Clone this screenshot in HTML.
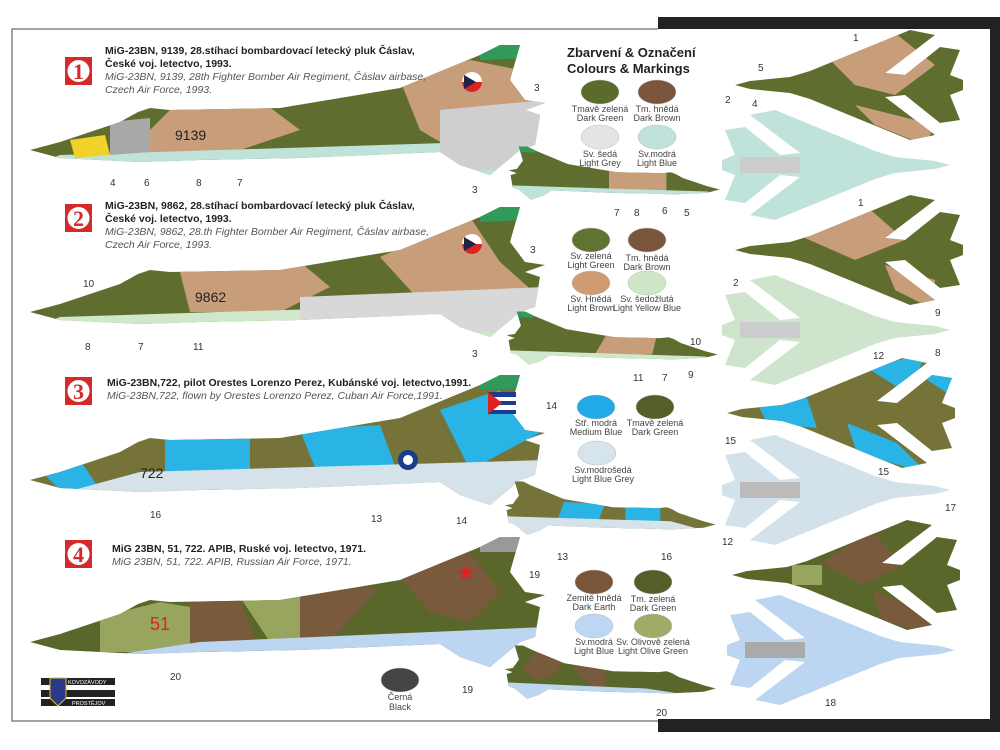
<!DOCTYPE html>
<html><head><meta charset="utf-8"><style>
html,body{margin:0;padding:0;background:#fff;}
svg{display:block;font-family:"Liberation Sans",sans-serif;}
.h{font-weight:bold;font-size:10.5px;fill:#222}
.i{font-style:italic;font-size:10.5px;fill:#555}
.n{font-size:10px;fill:#333}
.c{font-size:9px;fill:#444;text-anchor:middle}
</style></head><body>
<svg width="1000" height="750" viewBox="0 0 1000 750" xmlns="http://www.w3.org/2000/svg">
<defs>
<path id="side" d="M30,150 L60,142 L120,122 L138,112 L150,108 L170,110 L280,108 L400,88 L480,55 L500,45 L520,45 L510,80 L525,100 L545,103 L525,110 L540,115 L535,145 L520,150 L490,175 L460,165 L440,152 L300,158 L200,160 L140,162 L60,158 Z"/>
<path id="top" d="M0,0 L15,-4 L55,-8 L75,-14 L175,-55 L200,-50 L150,-12 L170,-10 L205,-38 L225,-35 L215,-10 L228,-5 L228,5 L215,10 L225,35 L205,38 L170,10 L150,12 L200,50 L175,55 L75,14 L55,8 L15,4 Z"/>
<clipPath id="cs"><use href="#side"/></clipPath>
<clipPath id="ct"><use href="#top"/></clipPath>
</defs>

<!-- frame -->
<rect x="12" y="29" width="660" height="692" fill="#fff" stroke="#666" stroke-width="1.2"/>
<rect x="658" y="17" width="342" height="715" fill="#222"/>
<rect x="658" y="29" width="332" height="690" fill="#fff"/>

<!-- Aircraft 1 side -->
<g>
 <use href="#side" fill="#5f6e2e"/>
 <g clip-path="url(#cs)">
  <polygon points="170,110 260,100 300,130 240,150 160,160 130,150" fill="#c89d7a"/>
  <polygon points="400,80 470,60 520,70 545,140 470,160 420,130" fill="#c89d7a"/>
  <polygon points="60,155 540,140 540,180 0,180" fill="#bfe2da"/>
  <polygon points="440,110 545,100 545,170 440,170" fill="#cfcfcf"/>
  <polygon points="480,40 530,40 525,58 480,60" fill="#2f9a5a"/>
  <polygon points="70,140 105,135 110,155 75,158" fill="#f2d22a"/>
  <polygon points="110,122 150,118 150,152 110,155" fill="#a8a8a8"/>
 </g>
 <text x="175" y="140" font-size="14" fill="#222">9139</text>
 <circle cx="472" cy="82" r="10" fill="#fff"/><path d="M462,82 a10,10 0 0 0 20,0 Z" fill="#d22"/><path d="M464,75 L476,82 L464,89 Z" fill="#224"/>
</g>
<!-- Aircraft 2 side -->
<g transform="translate(0,162)">
 <use href="#side" fill="#5f6e2e"/>
 <g clip-path="url(#cs)">
  <polygon points="180,110 300,100 330,125 280,150 190,150" fill="#c89d7a"/>
  <polygon points="380,95 470,55 500,100 545,140 430,150" fill="#c89d7a"/>
  <polygon points="60,155 540,140 540,180 0,180" fill="#cfe8cc"/>
  <polygon points="300,135 545,125 545,170 300,170" fill="#d8d8d8"/>
  <polygon points="480,40 530,40 525,58 480,60" fill="#2f9a5a"/>
 </g>
 <text x="195" y="140" font-size="14" fill="#222">9862</text>
 <circle cx="472" cy="82" r="10" fill="#fff"/><path d="M462,82 a10,10 0 0 0 20,0 Z" fill="#d22"/><path d="M464,75 L476,82 L464,89 Z" fill="#224"/>
</g>
<!-- Aircraft 3 side -->
<g transform="translate(0,330)">
 <use href="#side" fill="#757338"/>
 <g clip-path="url(#cs)">
  <polygon points="40,140 80,130 100,160 60,160" fill="#2ab4e6"/>
  <polygon points="165,105 250,100 250,160 165,160" fill="#2ab4e6"/>
  <polygon points="300,100 380,95 400,150 320,150" fill="#2ab4e6"/>
  <polygon points="440,80 500,60 510,80 545,100 470,140" fill="#2ab4e6"/>
  <polygon points="140,142 545,130 545,180 0,180" fill="#d6e2ea"/>
  <polygon points="480,40 530,40 525,58 480,60" fill="#2f9a5a"/>
 </g>
 <text x="140" y="148" font-size="14" fill="#222">722</text>
 <rect x="488" y="62" width="28" height="22" fill="#fff"/><rect x="488" y="62" width="28" height="5" fill="#1b3b8c"/><rect x="488" y="71" width="28" height="4" fill="#1b3b8c"/><rect x="488" y="80" width="28" height="4" fill="#1b3b8c"/><path d="M488,62 L502,73 L488,84 Z" fill="#d22"/>
 <circle cx="408" cy="130" r="10" fill="#1b3b8c"/><circle cx="408" cy="130" r="5" fill="#fff"/>
</g>
<!-- Aircraft 4 side -->
<g transform="translate(0,492)">
 <use href="#side" fill="#5a672a"/>
 <g clip-path="url(#cs)">
  <polygon points="100,125 160,110 190,115 190,160 100,160" fill="#98a55f"/>
  <polygon points="190,110 240,108 260,160 190,160" fill="#7a5a3c"/>
  <polygon points="240,105 300,100 320,150 270,150" fill="#98a55f"/>
  <polygon points="300,100 380,95 330,150 300,150" fill="#7a5a3c"/>
  <polygon points="400,85 470,60 500,100 470,130 430,120" fill="#7a5a3c"/>
  <polygon points="200,150 545,135 545,180 0,180" fill="#bcd6f2"/>
  <polygon points="480,40 530,40 525,60 480,60" fill="#999"/>
 </g>
 <text x="150" y="138" font-size="18" fill="#d22">51</text>
 <text x="466" y="88" font-size="22" fill="#d22" text-anchor="middle">★</text>
</g>

<!-- small side views -->
<g transform="translate(732,128) scale(-0.41,0.41)"><use href="#side" fill="#5f6e2e"/><g clip-path="url(#cs)"><polygon points="160,100 300,100 300,160 160,160" fill="#c89d7a"/><polygon points="60,155 540,140 540,180 0,180" fill="#bfe2da"/><polygon points="480,40 530,40 525,58 480,60" fill="#2f9a5a"/></g></g>
<g transform="translate(730,293) scale(-0.41,0.41)"><use href="#side" fill="#5f6e2e"/><g clip-path="url(#cs)"><polygon points="180,110 300,100 330,150 190,150" fill="#c89d7a"/><polygon points="60,155 540,140 540,180 0,180" fill="#cfe8cc"/><polygon points="480,40 530,40 525,58 480,60" fill="#2f9a5a"/></g></g>
<g transform="translate(728,463) scale(-0.41,0.41)"><use href="#side" fill="#757338"/><g clip-path="url(#cs)"><polygon points="165,105 250,100 250,160 165,160" fill="#2ab4e6"/><polygon points="300,100 400,95 420,150 320,150" fill="#2ab4e6"/><polygon points="140,142 545,130 545,180 0,180" fill="#d6e2ea"/></g></g>
<g transform="translate(728,627) scale(-0.41,0.41)"><use href="#side" fill="#5a672a"/><g clip-path="url(#cs)"><polygon points="300,100 380,95 330,150 300,150" fill="#7a5a3c"/><polygon points="400,85 470,60 500,100 470,130 430,120" fill="#7a5a3c"/><polygon points="200,150 545,135 545,180 0,180" fill="#bcd6f2"/></g></g>

<!-- top views -->
<g transform="translate(735,85)"><use href="#top" fill="#5f6e2e"/><g clip-path="url(#ct)"><polygon points="90,-30 150,-60 200,-20 160,10 120,0" fill="#c89d7a"/><polygon points="120,20 200,40 190,60 140,40" fill="#c89d7a"/></g></g>
<g transform="translate(950,165) scale(-1,1)"><use href="#top" fill="#bfe2da"/><rect x="150" y="-8" width="60" height="16" fill="#ccc" clip-path="url(#ct)"/></g>
<g transform="translate(735,250)"><use href="#top" fill="#5f6e2e"/><g clip-path="url(#ct)"><polygon points="70,-12 130,-45 170,-10 120,10" fill="#c89d7a"/><polygon points="150,15 200,30 200,60 160,40" fill="#c89d7a"/></g></g>
<g transform="translate(950,330) scale(-1,1)"><use href="#top" fill="#cfe4cc"/><rect x="150" y="-8" width="60" height="16" fill="#ccc" clip-path="url(#ct)"/></g>
<g transform="translate(727,413)"><use href="#top" fill="#757338"/><g clip-path="url(#ct)"><polygon points="30,-10 80,-15 90,15 40,10" fill="#2ab4e6"/><polygon points="140,-45 200,-60 180,-20" fill="#2ab4e6"/><polygon points="120,10 170,30 200,60 130,40" fill="#2ab4e6"/><polygon points="190,-40 230,-40 220,-20" fill="#2ab4e6"/></g></g>
<g transform="translate(950,490) scale(-1,1)"><use href="#top" fill="#d3e1ea"/><rect x="150" y="-8" width="60" height="16" fill="#bbb" clip-path="url(#ct)"/></g>
<g transform="translate(732,575)"><use href="#top" fill="#5a672a"/><g clip-path="url(#ct)"><polygon points="90,-12 140,-45 170,-10 130,10" fill="#7a5a3c"/><polygon points="140,15 200,40 200,60 150,45" fill="#7a5a3c"/><polygon points="60,-10 90,-10 90,10 60,10" fill="#98a55f"/></g></g>
<g transform="translate(955,650) scale(-1,1)"><use href="#top" fill="#bcd6f2"/><rect x="150" y="-8" width="60" height="16" fill="#aaa" clip-path="url(#ct)"/></g>

<!-- badges & headers -->
<g font-family="Liberation Serif" font-weight="bold" font-size="22">
 <rect x="65" y="57" width="27" height="28" fill="#d62a2a"/><circle cx="78.5" cy="71" r="11" fill="#fff"/><text x="78.5" y="79" text-anchor="middle" fill="#d62a2a">1</text>
 <rect x="65" y="204" width="27" height="28" fill="#d62a2a"/><circle cx="78.5" cy="218" r="11" fill="#fff"/><text x="78.5" y="226" text-anchor="middle" fill="#d62a2a">2</text>
 <rect x="65" y="377" width="27" height="28" fill="#d62a2a"/><circle cx="78.5" cy="391" r="11" fill="#fff"/><text x="78.5" y="399" text-anchor="middle" fill="#d62a2a">3</text>
 <rect x="65" y="540" width="27" height="28" fill="#d62a2a"/><circle cx="78.5" cy="554" r="11" fill="#fff"/><text x="78.5" y="562" text-anchor="middle" fill="#d62a2a">4</text>
</g>
<text class="h" x="105" y="54">MiG-23BN, 9139, 28.stíhací bombardovací letecký pluk Čáslav,</text>
<text class="h" x="105" y="67">České voj. letectvo, 1993.</text>
<text class="i" x="105" y="80">MiG-23BN, 9139, 28th Fighter Bomber Air Regiment, Čáslav airbase,</text>
<text class="i" x="105" y="93">Czech Air Force, 1993.</text>
<text class="h" x="105" y="209">MiG-23BN, 9862, 28.stíhací bombardovací letecký pluk Čáslav,</text>
<text class="h" x="105" y="222">České voj. letectvo, 1993.</text>
<text class="i" x="105" y="235">MiG-23BN, 9862, 28.th Fighter Bomber Air Regiment, Čáslav airbase,</text>
<text class="i" x="105" y="248">Czech Air Force, 1993.</text>
<text class="h" x="107" y="386">MiG-23BN,722, pilot Orestes Lorenzo Perez, Kubánské voj. letectvo,1991.</text>
<text class="i" x="107" y="399">MiG-23BN,722, flown by  Orestes Lorenzo Perez, Cuban Air Force,1991.</text>
<text class="h" x="112" y="552">MiG 23BN, 51, 722. APIB, Ruské voj. letectvo, 1971.</text>
<text class="i" x="112" y="565">MiG 23BN, 51, 722. APIB, Russian Air Force, 1971.</text>

<!-- colour chips -->
<text x="567" y="57" font-size="13" font-weight="bold" fill="#222">Zbarvení &amp; Označení</text>
<text x="567" y="73" font-size="13" font-weight="bold" fill="#222">Colours &amp; Markings</text>
<g stroke="#bbb" stroke-width="0.5">
<ellipse cx="600" cy="92" rx="19" ry="12" fill="#5a6b2c"/><ellipse cx="657" cy="92" rx="19" ry="12" fill="#7b553c"/>
<ellipse cx="600" cy="137" rx="19" ry="12" fill="#e4e4e4"/><ellipse cx="657" cy="137" rx="19" ry="12" fill="#bfe3dc"/>
<ellipse cx="591" cy="240" rx="19" ry="12" fill="#5f7332"/><ellipse cx="647" cy="240" rx="19" ry="12" fill="#7b553c"/>
<ellipse cx="591" cy="283" rx="19" ry="12" fill="#cf9b72"/><ellipse cx="647" cy="283" rx="19" ry="12" fill="#cfe6c6"/>
<ellipse cx="596" cy="407" rx="19" ry="12" fill="#22aae6"/><ellipse cx="655" cy="407" rx="19" ry="12" fill="#575d28"/>
<ellipse cx="597" cy="453" rx="19" ry="12" fill="#d6e4ec"/>
<ellipse cx="594" cy="582" rx="19" ry="12" fill="#7a553a"/><ellipse cx="653" cy="582" rx="19" ry="12" fill="#575d28"/>
<ellipse cx="594" cy="626" rx="19" ry="12" fill="#bcd6f4"/><ellipse cx="653" cy="626" rx="19" ry="12" fill="#a0ab68"/>
<ellipse cx="400" cy="680" rx="19" ry="12" fill="#444"/>
</g>
<text class="c" x="600" y="112">Tmavě zelená</text><text class="c" x="600" y="121">Dark Green</text>
<text class="c" x="657" y="112">Tm. hnědá</text><text class="c" x="657" y="121">Dark Brown</text>
<text class="c" x="600" y="157">Sv. šedá</text><text class="c" x="600" y="166">Light Grey</text>
<text class="c" x="657" y="157">Sv.modrá</text><text class="c" x="657" y="166">Light Blue</text>
<text class="c" x="591" y="259">Sv. zelená</text><text class="c" x="591" y="268">Light Green</text>
<text class="c" x="647" y="261">Tm. hnědá</text><text class="c" x="647" y="270">Dark Brown</text>
<text class="c" x="591" y="302">Sv. Hnědá</text><text class="c" x="591" y="311">Light Brown</text>
<text class="c" x="647" y="302">Sv. šedožlutá</text><text class="c" x="647" y="311">Light Yellow Blue</text>
<text class="c" x="596" y="426">Stř. modrá</text><text class="c" x="596" y="435">Medium Blue</text>
<text class="c" x="655" y="426">Tmavě zelená</text><text class="c" x="655" y="435">Dark Green</text>
<text class="c" x="603" y="473">Sv.modrošedá</text><text class="c" x="603" y="482">Light Blue Grey</text>
<text class="c" x="594" y="601">Zemitě hnědá</text><text class="c" x="594" y="610">Dark Earth</text>
<text class="c" x="653" y="602">Tm. zelená</text><text class="c" x="653" y="611">Dark Green</text>
<text class="c" x="594" y="645">Sv.modrá</text><text class="c" x="594" y="654">Light Blue</text>
<text class="c" x="653" y="645">Sv. Olivově zelená</text><text class="c" x="653" y="654">Light Olive Green</text>
<text class="c" x="400" y="700" fill="#999">Černá</text><text class="c" x="400" y="710" fill="#999">Black</text>

<!-- logo -->
<rect x="41" y="678" width="74" height="7" fill="#222"/><rect x="41" y="690" width="74" height="7" fill="#222"/><rect x="41" y="699" width="74" height="7" fill="#222"/>
<path d="M50,678 h16 v20 l-8,8 l-8,-8 Z" fill="#2a3a8a" stroke="#e8c020" stroke-width="1"/>
<text x="68" y="684" font-size="5.5" fill="#fff">KOVOZÁVODY</text><text x="72" y="705" font-size="5.5" fill="#fff">PROSTĚJOV</text>

<!-- number labels -->
<g class="n">
<text x="534" y="91">3</text><text x="110" y="186">4</text><text x="144" y="186">6</text><text x="196" y="186">8</text><text x="237" y="186">7</text>
<text x="472" y="193">3</text><text x="614" y="216">7</text><text x="634" y="216">8</text><text x="662" y="214">6</text><text x="684" y="216">5</text>
<text x="530" y="253">3</text><text x="83" y="287">10</text><text x="85" y="350">8</text><text x="138" y="350">7</text><text x="193" y="350">11</text>
<text x="472" y="357">3</text><text x="690" y="345">10</text><text x="633" y="381">11</text><text x="662" y="381">7</text><text x="688" y="378">9</text>
<text x="546" y="409">14</text><text x="150" y="518">16</text><text x="371" y="522">13</text><text x="456" y="524">14</text>
<text x="557" y="560">13</text><text x="661" y="560">16</text><text x="529" y="578">19</text><text x="170" y="680">20</text>
<text x="462" y="693">19</text><text x="656" y="716">20</text>
<text x="853" y="41">1</text><text x="758" y="71">5</text><text x="752" y="107">4</text><text x="725" y="103">2</text>
<text x="858" y="206">1</text><text x="733" y="286">2</text><text x="935" y="316">9</text><text x="935" y="356">8</text><text x="873" y="359">12</text>
<text x="878" y="475">15</text><text x="725" y="444">15</text><text x="722" y="545">12</text><text x="945" y="511">17</text><text x="825" y="706">18</text>
</g>
</svg>
</body></html>
